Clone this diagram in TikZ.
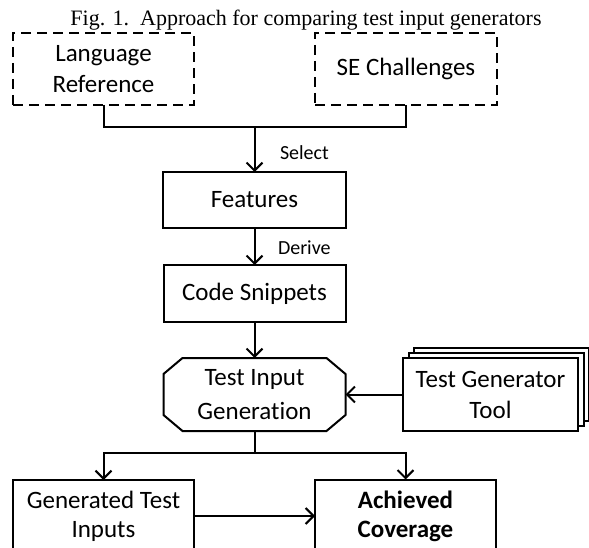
\documentclass[tikz,border=0pt]{standalone}
\usepackage{fontspec}
\setmainfont{Carlito}[Ligatures=NoCommon]
\newfontfamily\capfont{Liberation Serif}
\usetikzlibrary{arrows.meta,shadows}
\begin{document}
\begin{tikzpicture}[x=1pt,y=-1pt,
  line width=2pt,
  every node/.style={inner sep=0pt,outer sep=0pt},
  box/.style={draw,minimum width=#1,align=center,font=\fontsize{25}{31}\selectfont},
  dbox/.style={box=#1,dashed,dash pattern=on 10pt off 6pt},
  lbl/.style={anchor=west,font=\fontsize{20}{24}\selectfont},
  arr/.style={-{Straight Barb[length=8pt,width=16pt,line width=2pt]}},
]
\useasboundingbox (0,0) rectangle (589,548);
\clip (0,0) rectangle (589,548);

\node[anchor=base,font=\capfont\fontsize{22}{26}\selectfont] (cap) at (306,26) {Fig. 1.\ \ Approach for comparing test input generators};

\node[dbox=181pt,minimum height=72pt] (lr) at (103.5,69) {Language\\Reference};
\node[dbox=182pt,minimum height=72pt] (se) at (406,69) {SE Challenges};
\node[box=183pt,minimum height=56pt] (feat) at (254.5,200) {Features};
\node[box=182pt,minimum height=57pt] (code) at (254.5,293.5) {Code Snippets};
\node[box=182pt,minimum height=73pt,draw=none,font=\fontsize{25}{34}\selectfont] (oct) at (254.5,394.5) {Test Input\\Generation};
\draw ([xshift=19pt]oct.north west) -- ([xshift=-19pt]oct.north east)
  -- ([yshift=-16pt]oct.north east) -- ([yshift=16pt]oct.south east)
  -- ([xshift=-19pt]oct.south east) -- ([xshift=19pt]oct.south west)
  -- ([yshift=16pt]oct.south west) -- ([yshift=-16pt]oct.north west) -- cycle;
\node[box=175pt,minimum height=73pt,fill=white,
  double copy shadow={shadow xshift=5.5pt,shadow yshift=5pt}] (tgt) at (490.5,394.5) {Test Generator\\Tool};
\node[box=181pt,minimum height=72pt,font=\fontsize{25}{29}\selectfont] (gti) at (103.5,516) {Generated Test\\Inputs};
\node[box=181pt,minimum height=73pt,font=\bfseries\fontsize{25}{29}\selectfont] (ac) at (405.5,516) {Achieved\\Coverage};

\coordinate (j1) at (254.5,127);
\coordinate (j2) at (254.5,453);

\draw (lr.south) -- (lr.south |- j1) -| (se.south);
\draw[arr] (j1) -- (feat.north);
\node[lbl] (sel) at (280,153) {Select};
\draw[arr] (feat.south) -- (code.north);
\node[lbl] (der) at (278,248) {Derive};
\draw[arr] (code.south) -- (oct.north);
\draw[arr] (tgt.west) -- (oct.east);
\draw (oct.south) -- (j2);
\draw[arr] (j2) -| (gti.north);
\draw[arr] (j2) -| (ac.north);
\draw[arr] (gti.east) -- (ac.west);
\end{tikzpicture}
\end{document}
